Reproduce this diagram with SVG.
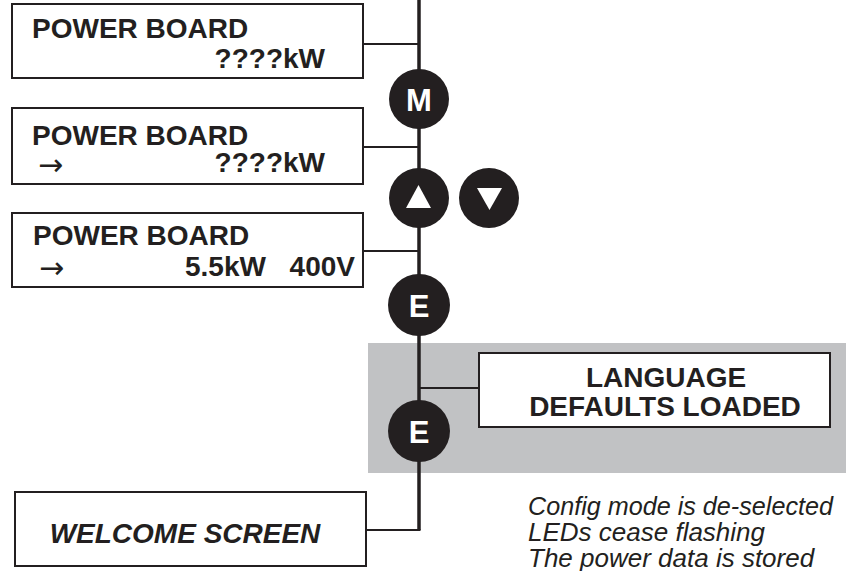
<svg xmlns="http://www.w3.org/2000/svg" width="846" height="571" viewBox="0 0 846 571">
<style>
.box{fill:#fff;stroke:#231f20;stroke-width:2}
.b{font-family:"Liberation Sans",Arial,sans-serif;font-weight:bold;font-size:28px;fill:#231f20}
.arr{font-family:"DejaVu Sans",sans-serif;font-size:30px;fill:#231f20}
.it{font-family:"Liberation Sans",Arial,sans-serif;font-style:italic;font-size:26px;fill:#231f20}
.btn{fill:#231f20}
.bl{font-family:"Liberation Sans",Arial,sans-serif;font-weight:bold;font-size:31px;fill:#fff;text-anchor:middle}
.main{stroke:#231f20;stroke-width:3.5;fill:none}
.con{stroke:#231f20;stroke-width:2;fill:none}
</style>
<rect id="band" x="368" y="343" width="478" height="130" fill="#c1c2c4"/>
<g id="connectors">
<path class="main" d="M419 0 V530"/>
<path class="con" d="M363 44 H419"/>
<path class="con" d="M363 147 H419"/>
<path class="con" d="M363 251 H419"/>
<path class="con" d="M419 388 H479"/>
<path class="con" d="M366 530 H420.5"/>
</g>
<g id="box1">
<rect class="box" x="12" y="4" width="351" height="74"/>
<text class="b" x="32" y="38">POWER BOARD</text>
<text class="b" x="325" y="68" text-anchor="end">????kW</text>
</g>
<g id="box2">
<rect class="box" x="12" y="108" width="351" height="76"/>
<text class="b" x="32" y="145">POWER BOARD</text>
<text class="arr" x="38" y="175">→</text>
<text class="b" x="325" y="172" text-anchor="end">????kW</text>
</g>
<g id="box3">
<rect class="box" x="12" y="213" width="351" height="74"/>
<text class="b" x="33" y="245">POWER BOARD</text>
<text class="arr" x="39" y="278">→</text>
<text class="b" x="185" y="276">5.5kW</text>
<text class="b" x="355" y="276" text-anchor="end">400V</text>
</g>
<g id="btnM">
<circle class="btn" cx="419" cy="99" r="30"/>
<text class="bl" x="419" y="111">M</text>
</g>
<g id="btnUp">
<circle class="btn" cx="419" cy="198" r="30"/>
<polygon points="406,208 431,208 418.5,185" fill="#fff"/>
</g>
<g id="btnDown">
<circle class="btn" cx="489" cy="198" r="30"/>
<polygon points="477,188 502,188 489.5,210" fill="#fff"/>
</g>
<g id="btnE1">
<circle class="btn" cx="419" cy="305" r="31"/>
<text class="bl" x="419" y="317">E</text>
</g>
<g id="btnE2">
<circle class="btn" cx="419" cy="431" r="31"/>
<text class="bl" x="419" y="443">E</text>
</g>
<g id="lang">
<rect class="box" x="479" y="353" width="351" height="74"/>
<text class="b" x="666" y="387" text-anchor="middle">LANGUAGE</text>
<text class="b" x="665" y="416" text-anchor="middle">DEFAULTS LOADED</text>
</g>
<g id="welcome">
<rect class="box" x="15" y="492" width="351" height="74"/>
<text class="b" x="185" y="543" text-anchor="middle" font-style="italic" font-size="29px">WELCOME SCREEN</text>
</g>
<g id="notes">
<text class="it" x="528" y="515" textLength="305" lengthAdjust="spacingAndGlyphs">Config mode is de-selected</text>
<text class="it" x="528" y="541">LEDs cease flashing</text>
<text class="it" x="528" y="567">The power data is stored</text>
</g>
</svg>
